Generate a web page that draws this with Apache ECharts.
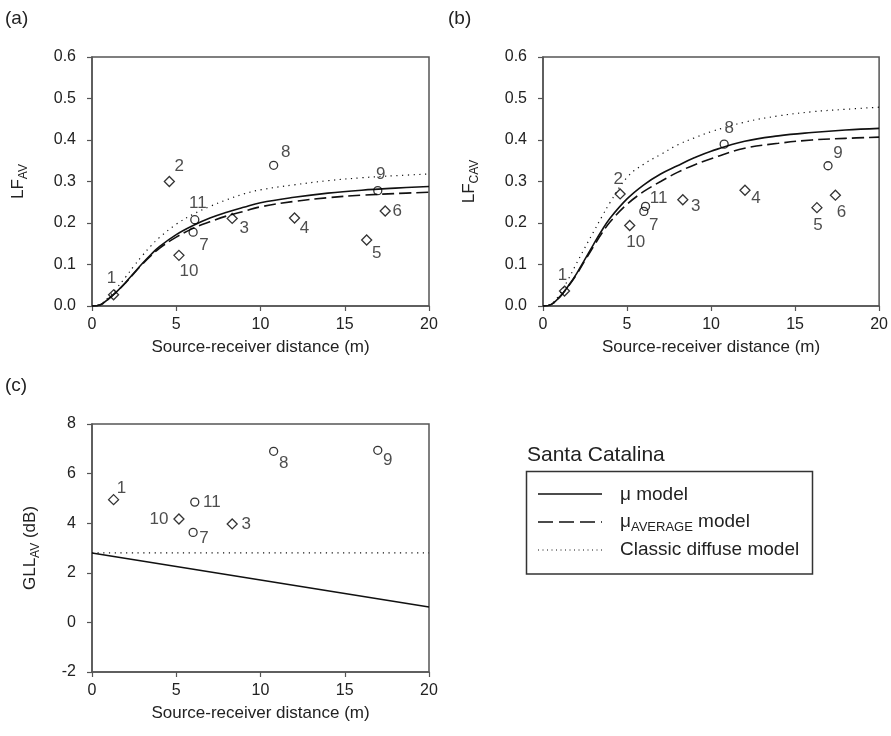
<!DOCTYPE html>
<html>
<head>
<meta charset="utf-8">
<script src="https://cdn.jsdelivr.net/npm/echarts@6/dist/echarts.min.js"></script>
<style>
  html, body { margin: 0; padding: 0; background: #fff; }
  #chart { width: 891px; height: 736px; }
</style>
</head>
<body>
<div id="chart"></div>
<script>
// Receiver positions (Santa Catalina): id and source-receiver distance (m)
const receiverIds = [1, 2, 3, 4, 5, 6, 7, 8, 9, 10, 11];
const receiverDist = [1.28, 4.59, 8.32, 12.02, 16.3, 17.4, 6.0, 10.78, 16.96, 5.16, 6.1];

// Measured values per receiver
const lfAv  = [0.027, 0.300, 0.211, 0.212, 0.159, 0.229, 0.178, 0.339, 0.278, 0.122, 0.208];
const lfCav = [0.036, 0.270, 0.256, 0.279, 0.237, 0.267, 0.228, 0.390, 0.338, 0.194, 0.240];

// GLL_AV is only available at a subset of receivers
const gllIds = [1, 3, 7, 8, 9, 10, 11];
const gllAv  = [4.95, 3.97, 3.63, 6.9, 6.94, 4.17, 4.85];

// Model curves sampled along distance
const curveDist    = [0, 0.5, 1, 1.5, 2, 2.5, 3, 3.5, 4, 5, 6, 7, 8, 9, 10, 12, 14, 16, 18, 20];
const lfAvMu       = [0, 0.003, 0.018, 0.036, 0.057, 0.080, 0.103, 0.124, 0.143, 0.172, 0.194, 0.212, 0.226, 0.238, 0.249, 0.262, 0.272, 0.279, 0.284, 0.288];
const lfAvMuAvg    = [0, 0.003, 0.018, 0.036, 0.056, 0.079, 0.101, 0.121, 0.139, 0.166, 0.187, 0.203, 0.217, 0.228, 0.239, 0.252, 0.261, 0.267, 0.271, 0.274];
const lfAvDiffuse  = [0, 0.004, 0.022, 0.045, 0.070, 0.097, 0.122, 0.145, 0.165, 0.197, 0.221, 0.240, 0.256, 0.270, 0.280, 0.292, 0.302, 0.309, 0.314, 0.318];
const lfCavMu      = [0, 0.004, 0.022, 0.048, 0.078, 0.113, 0.148, 0.182, 0.212, 0.258, 0.292, 0.318, 0.338, 0.357, 0.373, 0.397, 0.410, 0.418, 0.424, 0.428];
const lfCavMuAvg   = [0, 0.004, 0.022, 0.047, 0.076, 0.110, 0.143, 0.175, 0.203, 0.245, 0.276, 0.300, 0.322, 0.340, 0.355, 0.380, 0.392, 0.400, 0.404, 0.407];
const lfCavDiffuse = [0, 0.005, 0.029, 0.064, 0.103, 0.141, 0.178, 0.215, 0.250, 0.310, 0.342, 0.365, 0.388, 0.405, 0.420, 0.443, 0.458, 0.468, 0.474, 0.479];

const gllDist    = [0, 20];
const gllMu      = [2.8, 0.62];
const gllDiffuse = [2.8, 2.8];

// Axis ticks
const xTicks = { min: 0, max: 20, interval: 5 };
const lfTicks = { min: 0, max: 0.6, interval: 0.1 };
const gllTicks = { min: -2, max: 8, interval: 2 };

// ---- styling ----
const FONT = '"Liberation Sans", Arial, sans-serif';
const INK = '#222';
const AXIS = '#555';
const circleIds = [7, 8, 9, 11];

// label offsets (dx, dy from marker centre) per panel
const offsetsA = {1: [-2, -16], 2: [10, -15], 3: [12, 10], 4: [10, 10], 5: [10, 13], 6: [12, 0],
                  7: [11, 13], 8: [12, -13], 9: [3, -16], 10: [10, 16], 11: [3, -16]};
const offsetsB = {1: [-2, -16], 2: [-2, -15], 3: [13, 7], 4: [11, 8], 5: [1, 18], 6: [6, 17],
                  7: [10, 14], 8: [5, -16], 9: [10, -12], 10: [6, 17], 11: [13, -8]};
const offsetsC = {1: [8, -11], 3: [14, 0], 7: [11, 6], 8: [10, 12], 9: [10, 10], 10: [-20, 0], 11: [17, 0]};

function pairs(xs, ys) { return xs.map((x, i) => [x, ys[i]]); }

function points(ids, xs, ys, offsets) {
  return ids.map((id, i) => ({
    value: [xs[i], ys[i]],
    symbol: circleIds.includes(id) ? 'circle' : 'diamond',
    symbolSize: circleIds.includes(id) ? 8 : 10,
    label: {
      show: true, formatter: String(id), position: 'inside',
      offset: offsets[id], fontSize: 17, fontFamily: FONT, color: INK
    }
  }));
}

function lineSeries(name, idx, xs, ys, type, width) {
  return {
    name, type: 'line', xAxisIndex: idx, yAxisIndex: idx,
    data: pairs(xs, ys), showSymbol: false, smooth: 0.4,
    lineStyle: { color: '#111', width: width, type: type }, silent: true, z: 2
  };
}

function scatterSeries(idx, data) {
  return {
    type: 'scatter', xAxisIndex: idx, yAxisIndex: idx, data,
    itemStyle: { color: 'rgba(0,0,0,0)', borderColor: '#000', borderWidth: 1.3 },
    z: 3, silent: true
  };
}

const gridBase = { show: true, borderColor: AXIS, borderWidth: 1.5, backgroundColor: 'transparent' };
const grids = [
  Object.assign({ left: 92, top: 57, width: 337, height: 249 }, gridBase),
  Object.assign({ left: 543, top: 57, width: 339, height: 249 }, gridBase),
  Object.assign({ left: 92, top: 424, width: 337, height: 248 }, gridBase)
];

function xAxis(idx) {
  return Object.assign({
    type: 'value', gridIndex: idx,
    name: 'Source-receiver distance (m)', nameLocation: 'middle', nameGap: 33,
    nameTextStyle: { fontSize: 17, fontFamily: FONT, color: INK },
    axisLine: { show: true, onZero: false, lineStyle: { color: AXIS, width: 1.5 } },
    axisTick: { show: true, inside: false, length: 5, lineStyle: { color: AXIS, width: 1.2 } },
    axisLabel: { fontSize: 16, fontFamily: FONT, color: INK, margin: 11 },
    splitLine: { show: false }
  }, xTicks);
}

const subRich = {
  m: { fontSize: 17, fontFamily: FONT, color: INK, lineHeight: 24 },
  s: { fontSize: 12, fontFamily: FONT, color: INK, lineHeight: 12, verticalAlign: 'bottom' }
};

function yAxis(idx, name, ticks, fmt, gap) {
  return Object.assign({
    type: 'value', gridIndex: idx,
    name, nameLocation: 'middle', nameRotate: 90, nameGap: gap,
    nameTextStyle: { rich: subRich },
    axisLine: { show: true, onZero: false, lineStyle: { color: AXIS, width: 1.5 } },
    axisTick: { show: true, inside: false, length: 5, lineStyle: { color: AXIS, width: 1.2 } },
    axisLabel: { fontSize: 16, fontFamily: FONT, color: INK, margin: 16, formatter: fmt },
    splitLine: { show: false }
  }, ticks);
}

const fmt1 = v => v.toFixed(1);
const fmt0 = v => String(v);

const legendText = { fontSize: 19, fontFamily: FONT, fill: INK };

const option = {
  animation: false,
  backgroundColor: '#fff',
  grid: grids,
  xAxis: [xAxis(0), xAxis(1), xAxis(2)],
  yAxis: [
    yAxis(0, '{m|LF}{s|AV}', lfTicks, fmt1, 62),
    yAxis(1, '{m|LF}{s|CAV}', lfTicks, fmt1, 62),
    yAxis(2, '{m|GLL}{s|AV}{m| (dB)}', gllTicks, fmt0, 50)
  ],
  series: [
    lineSeries('μ model', 0, curveDist, lfAvMu, 'solid', 1.6),
    lineSeries('μAVERAGE model', 0, curveDist, lfAvMuAvg, [12, 5], 1.6),
    lineSeries('Classic diffuse model', 0, curveDist, lfAvDiffuse, [1.2, 4.5], 1.2),
    scatterSeries(0, points(receiverIds, receiverDist, lfAv, offsetsA)),

    lineSeries('μ model', 1, curveDist, lfCavMu, 'solid', 1.6),
    lineSeries('μAVERAGE model', 1, curveDist, lfCavMuAvg, [12, 5], 1.6),
    lineSeries('Classic diffuse model', 1, curveDist, lfCavDiffuse, [1.2, 4.5], 1.2),
    scatterSeries(1, points(receiverIds, receiverDist, lfCav, offsetsB)),

    lineSeries('μ model', 2, gllDist, gllMu, 'solid', 1.6),
    lineSeries('Classic diffuse model', 2, gllDist, gllDiffuse, [1.2, 4.5], 1.2),
    scatterSeries(2, points(gllIds, gllIds.map(id => receiverDist[id - 1]), gllAv, offsetsC))
  ],
  graphic: [
    { type: 'text', left: 5, top: 9, style: { text: '(a)', fontSize: 19, fontFamily: FONT, fill: INK } },
    { type: 'text', left: 448, top: 9, style: { text: '(b)', fontSize: 19, fontFamily: FONT, fill: INK } },
    { type: 'text', left: 5, top: 376, style: { text: '(c)', fontSize: 19, fontFamily: FONT, fill: INK } },

    // legend block
    { type: 'text', left: 527, top: 445, style: { text: 'Santa Catalina', fontSize: 21, fontFamily: FONT, fill: INK } },
    { type: 'rect', shape: { x: 526.5, y: 471.5, width: 286, height: 102.5 },
      style: { fill: 'none', stroke: '#333', lineWidth: 1.5 } },
    { type: 'line', shape: { x1: 538, y1: 494, x2: 602, y2: 494 }, style: { stroke: '#111', lineWidth: 1.4 } },
    { type: 'line', shape: { x1: 538, y1: 522, x2: 602, y2: 522 }, style: { stroke: '#111', lineWidth: 1.4, lineDash: [15, 6] } },
    { type: 'line', shape: { x1: 538, y1: 550, x2: 602, y2: 550 }, style: { stroke: '#111', lineWidth: 1, lineDash: [1, 3.5] } },
    { type: 'text', x: 620, y: 495, style: Object.assign({ text: 'μ model', verticalAlign: 'middle' }, legendText) },
    { type: 'text', x: 620, y: 522, style: {
        text: '{m|μ}{s|AVERAGE}{m| model}', verticalAlign: 'middle',
        rich: {
          m: { fontSize: 19, fontFamily: FONT, fill: INK, lineHeight: 24 },
          s: { fontSize: 13, fontFamily: FONT, fill: INK, lineHeight: 13, verticalAlign: 'bottom' }
        }
      } },
    { type: 'text', x: 620, y: 550, style: Object.assign({ text: 'Classic diffuse model', verticalAlign: 'middle' }, legendText) }
  ]
};

const chart = echarts.init(document.getElementById('chart'), null, { renderer: 'canvas' });
chart.setOption(option);
</script>
</body>
</html>
